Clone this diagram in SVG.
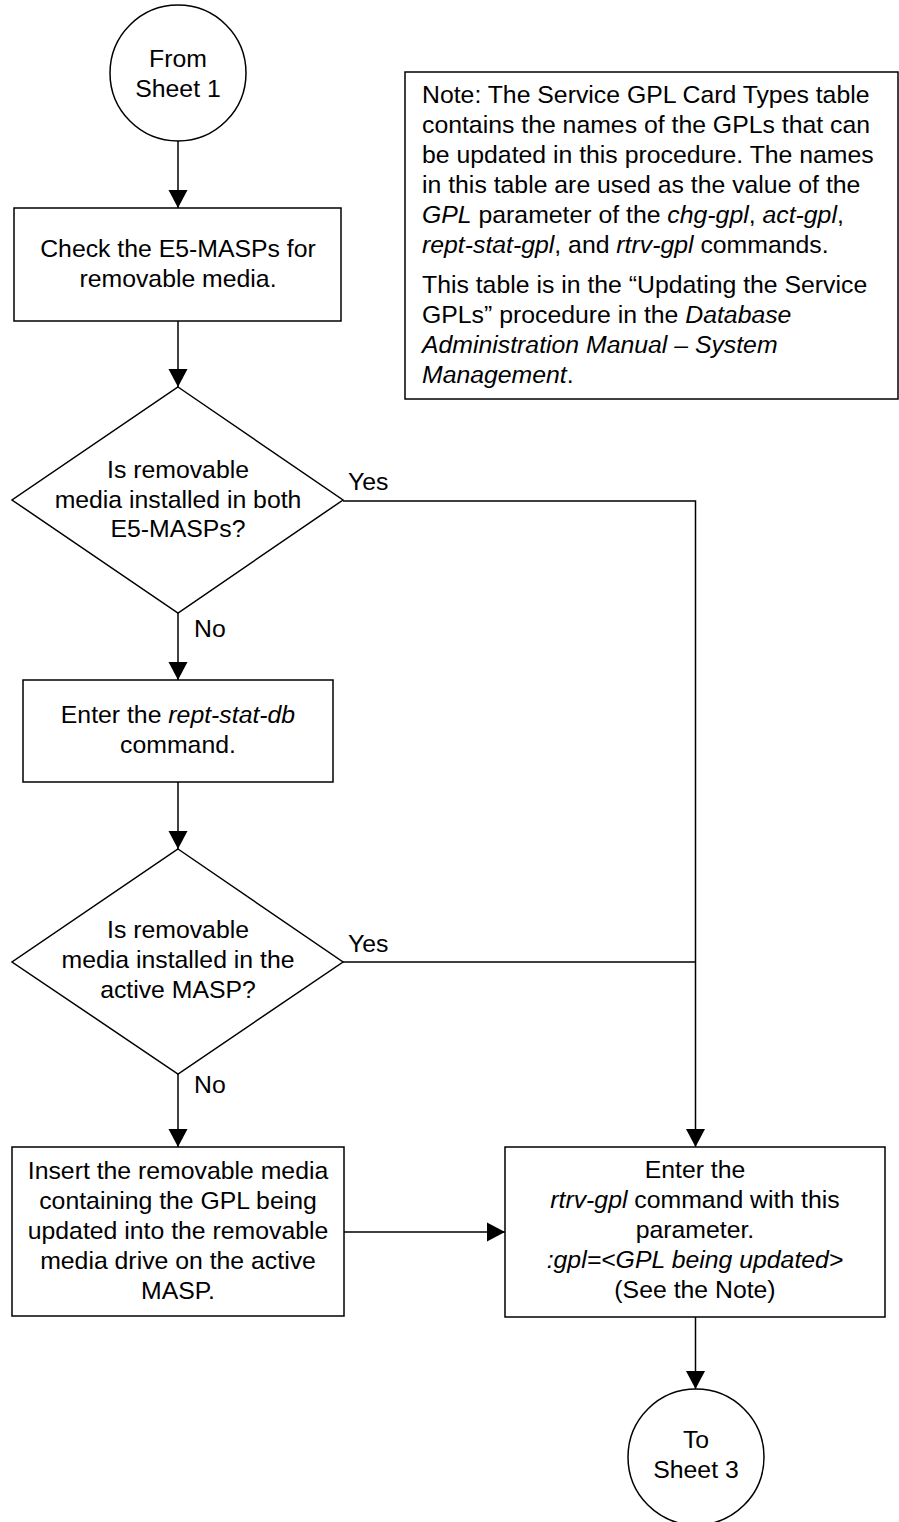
<svg xmlns="http://www.w3.org/2000/svg" width="899" height="1522" viewBox="0 0 899 1522">
<style>
.s{fill:#fff;stroke:#000;stroke-width:1.5}
.c{fill:none;stroke:#000;stroke-width:1.5}
text{font-family:"Liberation Sans",Arial,sans-serif;font-size:24.8px;fill:#000}
.m{text-anchor:middle}
.i{font-style:italic}
</style>
<defs>
<marker id="ah" markerUnits="userSpaceOnUse" markerWidth="20" markerHeight="20" refX="18" refY="10" orient="auto">
<path d="M0,0.5 L18,10 L0,19.5 Z" fill="#000"/>
</marker>
</defs>
<rect width="899" height="1522" fill="#fff"/>
<g id="connectors">
<line class="c" x1="178" y1="141" x2="178" y2="208" marker-end="url(#ah)"/>
<line class="c" x1="178" y1="321" x2="178" y2="387" marker-end="url(#ah)"/>
<line class="c" x1="178" y1="613" x2="178" y2="680" marker-end="url(#ah)"/>
<line class="c" x1="178" y1="782" x2="178" y2="849" marker-end="url(#ah)"/>
<line class="c" x1="178" y1="1074" x2="178" y2="1147" marker-end="url(#ah)"/>
<polyline class="c" points="343,501 695.5,501 695.5,1147" marker-end="url(#ah)"/>
<line class="c" x1="343" y1="962" x2="695.5" y2="962"/>
<line class="c" x1="344" y1="1232" x2="505" y2="1232" marker-end="url(#ah)"/>
<line class="c" x1="695.5" y1="1317" x2="695.5" y2="1389" marker-end="url(#ah)"/>
<text x="348" y="490">Yes</text>
<text x="194" y="637">No</text>
<text x="348" y="952">Yes</text>
<text x="194" y="1093">No</text>
</g>
<g id="start">
<circle class="s" cx="178" cy="73" r="68"/>
<text class="m" x="178" y="67">From</text>
<text class="m" x="178" y="97">Sheet 1</text>
</g>
<g id="note">
<rect class="s" x="405" y="72" width="493" height="327"/>
<text x="422" y="103">Note: The Service GPL Card Types table</text>
<text x="422" y="133">contains the names of the GPLs that can</text>
<text x="422" y="163">be updated in this procedure. The names</text>
<text x="422" y="193">in this table are used as the value of the</text>
<text x="422" y="223"><tspan class="i">GPL</tspan> parameter of the <tspan class="i">chg-gpl</tspan>, <tspan class="i">act-gpl</tspan>,</text>
<text x="422" y="253"><tspan class="i">rept-stat-gpl</tspan>, and <tspan class="i">rtrv-gpl</tspan> commands.</text>
<text x="422" y="293">This table is in the “Updating the Service</text>
<text x="422" y="323">GPLs” procedure in the <tspan class="i">Database</tspan></text>
<text x="422" y="353" class="i">Administration Manual – System</text>
<text x="422" y="383"><tspan class="i">Management</tspan>.</text>
</g>
<g id="check">
<rect class="s" x="14" y="208" width="327" height="113"/>
<text class="m" x="178" y="257">Check the E5-MASPs for</text>
<text class="m" x="178" y="287">removable media.</text>
</g>
<g id="decision1">
<polygon class="s" points="178,387 343,500 178,613 12,500"/>
<text class="m" x="178" y="478">Is removable</text>
<text class="m" x="178" y="508">media installed in both</text>
<text class="m" x="178" y="537">E5-MASPs?</text>
</g>
<g id="reptstat">
<rect class="s" x="23" y="680" width="310" height="102"/>
<text class="m" x="178" y="723">Enter the <tspan class="i">rept-stat-db</tspan></text>
<text class="m" x="178" y="753">command.</text>
</g>
<g id="decision2">
<polygon class="s" points="178,849 343,962 178,1074 12,962"/>
<text class="m" x="178" y="938">Is removable</text>
<text class="m" x="178" y="968">media installed in the</text>
<text class="m" x="178" y="998">active MASP?</text>
</g>
<g id="insert">
<rect class="s" x="12" y="1147" width="332" height="169"/>
<text class="m" x="178" y="1179">Insert the removable media</text>
<text class="m" x="178" y="1209">containing the GPL being</text>
<text class="m" x="178" y="1239">updated into the removable</text>
<text class="m" x="178" y="1269">media drive on the active</text>
<text class="m" x="178" y="1299">MASP.</text>
</g>
<g id="rtrv">
<rect class="s" x="505" y="1147" width="380" height="170"/>
<text class="m" x="695" y="1178">Enter the</text>
<text class="m" x="695" y="1208"><tspan class="i">rtrv-gpl</tspan> command with this</text>
<text class="m" x="695" y="1238">parameter.</text>
<text class="m i" x="695" y="1268">:gpl=&lt;GPL being updated&gt;</text>
<text class="m" x="695" y="1298">(See the Note)</text>
</g>
<g id="end">
<circle class="s" cx="696" cy="1457" r="68"/>
<text class="m" x="696" y="1448">To</text>
<text class="m" x="696" y="1478">Sheet 3</text>
</g>
</svg>
